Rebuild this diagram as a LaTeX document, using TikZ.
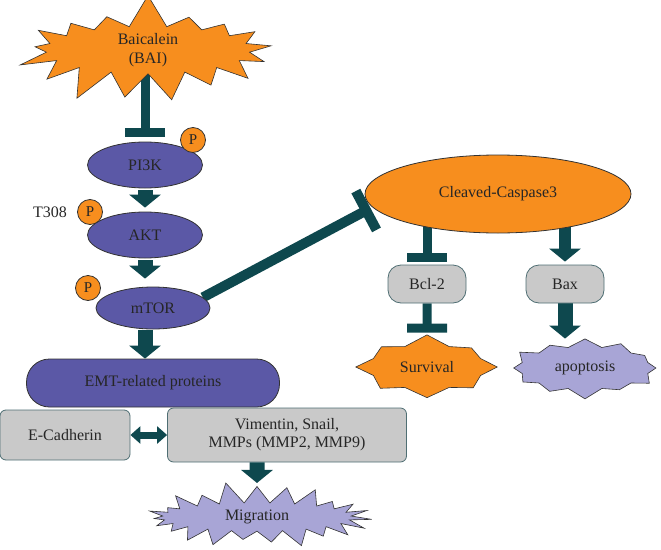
\documentclass[tikz,border=0pt]{standalone}
\usepackage{fontspec}
\setmainfont{Liberation Serif}
\usetikzlibrary{shapes.geometric, shapes.symbols, arrows.meta, backgrounds}
\definecolor{baiorange}{HTML}{F78E1E}
\definecolor{protpurple}{HTML}{5B58A6}
\definecolor{lightpurple}{HTML}{A8A5D6}
\definecolor{boxgray}{HTML}{C9C9C9}
\definecolor{boxedge}{HTML}{4F6E73}
\definecolor{darkteal}{HTML}{0E484E}
\begin{document}
\begin{tikzpicture}[x=1pt, y=-1pt,
    every node/.style={font=\fontsize{16}{19}\selectfont, text=black!85},
    prot/.style={ellipse, draw=black!80, fill=protpurple, line width=0.8pt, minimum width=115pt, minimum height=46pt},
    phos/.style={circle, draw=black!80, fill=baiorange, line width=0.8pt, minimum size=25pt, inner sep=0pt, font=\fontsize{15}{17}\selectfont},
    graybox/.style={rectangle, draw=boxedge, fill=boxgray, line width=0.8pt, rounded corners=6pt, align=center},
    burst/.style={starburst, draw=black!80, line width=0.6pt, inner sep=0pt},
    blockarrow/.style={draw=darkteal, line width=15pt, -{Triangle[length=13pt, width=31pt]}},
    inhibit/.style={draw=darkteal, line width=9pt, -{Bar[width=40pt]}}]
\useasboundingbox (0, 0) rectangle (661, 549);

% nodes
\node (BAI) [burst, fill=baiorange, align=center, minimum width=272pt, minimum height=97pt, inner xsep=4pt,
    starburst points=17, starburst point height=34pt, random starburst=7] at (148, 50) {Baicalein\\(BAI)};
\node (PIK) [prot] at (145, 165) {PI3K};
\node (AKT) [prot] at (145, 235) {AKT};
\node (MTOR) [prot, minimum width=114pt, minimum height=42pt] at (153, 308) {mTOR};
\node (EMT) [rectangle, draw=black!80, fill=protpurple, line width=0.8pt, rounded corners=23pt,
    minimum width=253pt, minimum height=48pt] at (153, 383) {EMT-related proteins};
\node (P1) [phos] at (193, 140) {P};
\node (P2) [phos] at (90, 212) {P};
\node (P3) [phos] at (88, 288) {P};
\node (T308) at (50, 212) {T308};

\node (ECAD) [graybox, minimum width=130pt, minimum height=50pt] at (65, 435) {E-Cadherin};
\node (VIM) [graybox, minimum width=239pt, minimum height=54pt, font=\fontsize{16}{18}\selectfont]
    at (287, 435) {Vimentin, Snail,\\MMPs (MMP2, MMP9)};
\node (MIG) [burst, fill=lightpurple, minimum width=233pt, minimum height=64pt, inner ysep=3pt,
    starburst points=23, starburst point height=22pt, random starburst=11] at (257, 517) {Migration};

\node (CASP) [ellipse, draw=black!80, fill=baiorange, line width=0.8pt, minimum width=266pt,
    minimum height=78pt] at (498, 194) {Cleaved-Caspase3};
\node (BCL) [graybox, rounded corners=13pt, minimum width=78pt, minimum height=38pt] at (427, 284) {Bcl-2};
\node (BAX) [graybox, rounded corners=13pt, minimum width=78pt, minimum height=38pt] at (565, 284) {Bax};
\node (SURV) [burst, fill=baiorange, minimum width=144pt, minimum height=53pt, inner ysep=10pt,
    starburst points=8, starburst point height=14pt] at (427, 367) {Survival};
\node (APOP) [burst, fill=lightpurple, minimum width=152pt, minimum height=47pt, inner ysep=8pt,
    starburst points=12, starburst point height=11pt] at (585, 368) {apoptosis};

\begin{scope}[on background layer]
\draw [inhibit, shorten >=5pt] (PIK.north |- BAI.center) -- (PIK.north);
\draw [blockarrow, shorten <=2pt, shorten >=4pt] (PIK) -- (AKT);
\draw [blockarrow, shorten <=2pt, shorten >=8pt] (AKT) -- (AKT |- MTOR.north);
\draw [blockarrow, shorten <=1pt, shorten >=0pt] (MTOR.south -| AKT) -- (EMT.north -| AKT);
\draw [inhibit, line width=10pt, -{Bar[width=44pt]}, shorten >=2pt] (MTOR.12) -- (CASP.186);
\draw [inhibit, shorten >=3pt] (BCL.north |- CASP.center) -- (BCL.north);
\draw [blockarrow, line width=12pt, shorten >=3pt] (BAX.north |- CASP.center) -- (BAX.north);
\draw [inhibit, shorten >=2pt] (BCL) -- (SURV.north);
\draw [blockarrow] (BAX) -- (BAX |- APOP.north);
\draw [draw=darkteal, line width=7pt, {Triangle[length=10pt, width=17pt]}-{Triangle[length=10pt, width=17pt]}]
    (ECAD) -- (VIM);
\end{scope}
\draw [blockarrow, shorten >=3pt] (VIM.south -| MIG) -- (MIG.north);
\end{tikzpicture}
\end{document}
